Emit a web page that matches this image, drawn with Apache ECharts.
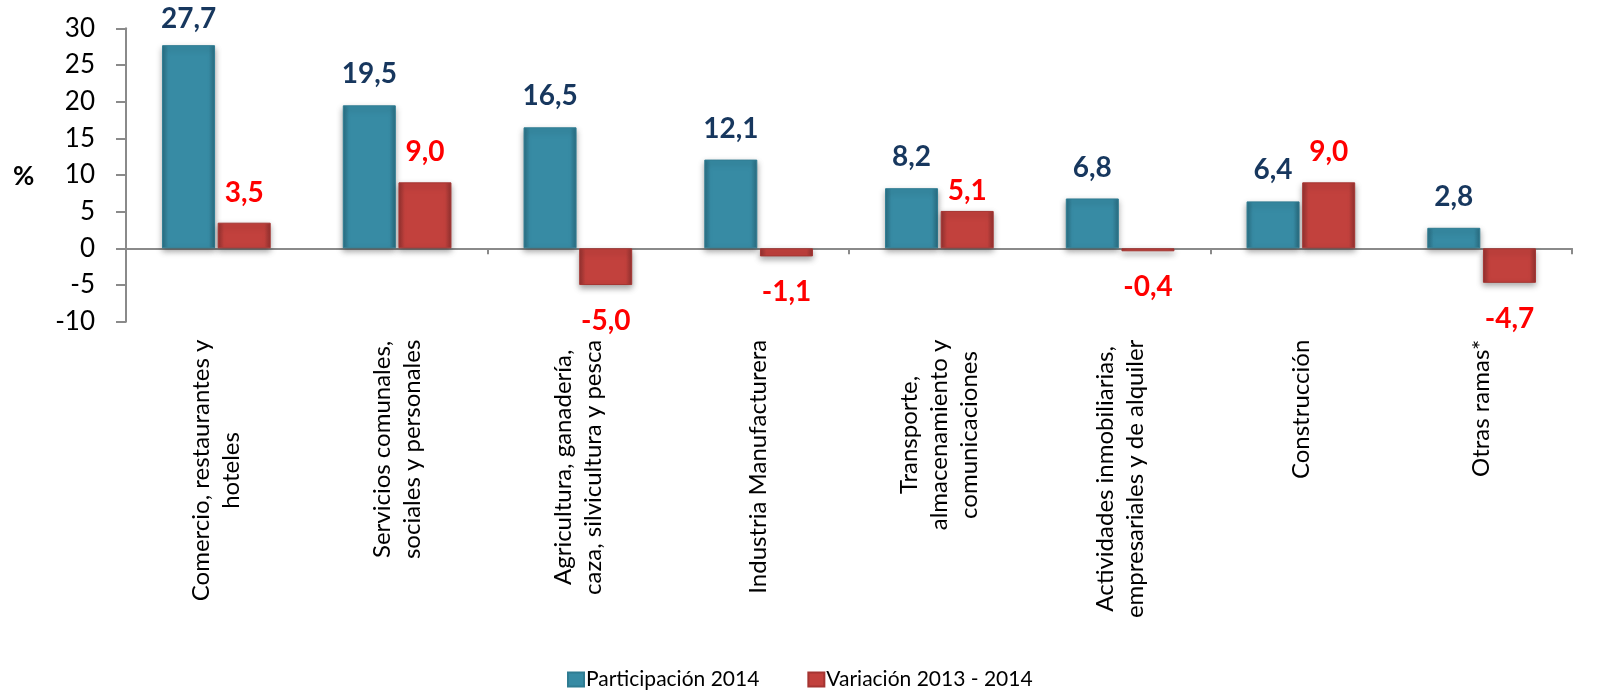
<!DOCTYPE html>
<html>
<head>
<meta charset="utf-8">
<script src="https://cdn.jsdelivr.net/npm/echarts@6/dist/echarts.min.js"></script>
<style>
html,body{margin:0;padding:0;background:#fff;}
#chart{width:1598px;height:691px;}
</style>
</head>
<body>
<div id="chart"></div>
<script>
const categories = [
  "Comercio, restaurantes y\nhoteles",
  "Servicios comunales,\nsociales y personales",
  "Agricultura, ganadería,\ncaza, silvicultura y pesca",
  "Industria Manufacturera",
  "Transporte,\nalmacenamiento y\ncomunicaciones",
  "Actividades inmobiliarias,\nempresariales y de alquiler",
  "Construcción",
  "Otras ramas*"
];
const participacion2014 = [27.7, 19.5, 16.5, 12.1, 8.2, 6.8, 6.4, 2.8];
const variacion2013_2014 = [3.5, 9.0, -5.0, -1.1, 5.1, -0.4, 9.0, -4.7];
const seriesNames = ["Participación 2014", "Variación 2013 - 2014"];

const FONT = "Lato, 'Open Sans', sans-serif";
const fmt = v => v.toFixed(1).replace('.', ',');

const blueFill = new echarts.graphic.LinearGradient(0, 0, 1, 0, [
  {offset: 0, color: '#2A6E83'},
  {offset: 0.12, color: '#378BA4'},
  {offset: 0.88, color: '#378BA4'},
  {offset: 1, color: '#2A6E83'}
]);
const redFill = new echarts.graphic.LinearGradient(0, 0, 1, 0, [
  {offset: 0, color: '#933230'},
  {offset: 0.12, color: '#C2413D'},
  {offset: 0.88, color: '#C2413D'},
  {offset: 1, color: '#933230'}
]);

const blueData = participacion2014.map((v, i) => {
  const item = {value: v};
  if (i === 0) item.label = {offset: [0, 5]};
  return item;
});
const redData = variacion2013_2014.map((v, i) => {
  const item = {value: v};
  if (v < 0) {
    item.label = {position: 'bottom', distance: 22};
  } else if (i === 4) {
    item.label = {position: 'top', distance: 16, offset: [0, 10]};
  }
  return item;
});

const chart = echarts.init(document.getElementById('chart'), null, {renderer: 'canvas'});
chart.setOption({
  animation: false,
  backgroundColor: '#ffffff',
  textStyle: {fontFamily: FONT},
  grid: {left: 126, right: 26, top: 28.3, bottom: 369.3, containLabel: false},
  legend: {
    data: seriesNames,
    left: 562,
    top: 664,
    itemWidth: 16,
    itemHeight: 14,
    itemGap: 48,
    icon: 'rect',
    textStyle: {fontFamily: FONT, fontSize: 21, color: '#000', padding: [0, 0, 0, -3]}
  },
  graphic: [{
    type: 'text',
    left: 13,
    top: 164,
    style: {text: '%', fontFamily: FONT, fontSize: 26, fontWeight: 'bold', fill: '#000'}
  }],
  xAxis: [
    {
      type: 'category',
      data: categories,
      position: 'bottom',
      axisLine: {onZero: true, lineStyle: {color: '#8A8A8A', width: 2}},
      axisTick: {show: true, length: 6, inside: false, lineStyle: {color: '#8A8A8A', width: 2}},
      axisLabel: {show: false},
      splitLine: {show: false}
    },
    {
      type: 'category',
      data: categories,
      position: 'bottom',
      axisLine: {show: false, onZero: false},
      axisTick: {show: false},
      splitLine: {show: false},
      axisLabel: {
        show: true,
        interval: 0,
        rotate: 90,
        margin: 18,
        color: '#000',
        fontFamily: FONT,
        fontSize: 24,
        lineHeight: 30,
        formatter: function (v) {
          return v.split('\n').map(l => '{c|' + l + '}').join('\n');
        },
        rich: {
          c: {align: 'center', fontFamily: FONT, fontSize: 24, lineHeight: 30, color: '#000'}
        }
      }
    }
  ],
  yAxis: {
    type: 'value',
    min: -10,
    max: 30,
    interval: 5,
    axisLine: {show: true, lineStyle: {color: '#8A8A8A', width: 2}},
    axisTick: {show: true, length: 10, inside: false, lineStyle: {color: '#8A8A8A', width: 2}},
    axisLabel: {margin: 31, color: '#000', fontFamily: FONT, fontSize: 26},
    splitLine: {show: false}
  },
  series: [
    {
      name: seriesNames[0],
      type: 'bar',
      xAxisIndex: 0,
      data: blueData,
      barWidth: 53,
      barGap: '5%',
      itemStyle: {
        color: blueFill,
        borderColor: '#2F7C92',
        borderWidth: 1,
        shadowBlur: 6,
        shadowColor: 'rgba(0,0,0,0.35)',
        shadowOffsetY: 3
      },
      label: {
        show: true,
        position: 'top',
        distance: 17,
        formatter: p => fmt(p.value),
        fontFamily: FONT,
        fontWeight: 'bold',
        fontSize: 28,
        color: '#17375E'
      }
    },
    {
      name: seriesNames[1],
      type: 'bar',
      xAxisIndex: 0,
      data: redData,
      barWidth: 53,
      barGap: '5%',
      itemStyle: {
        color: redFill,
        borderColor: '#A53532',
        borderWidth: 1,
        shadowBlur: 6,
        shadowColor: 'rgba(0,0,0,0.35)',
        shadowOffsetY: 3
      },
      label: {
        show: true,
        position: 'top',
        distance: 16,
        formatter: p => fmt(p.value),
        fontFamily: FONT,
        fontWeight: 'bold',
        fontSize: 28,
        color: '#FF0000'
      }
    }
  ]
});
</script>
</body>
</html>
